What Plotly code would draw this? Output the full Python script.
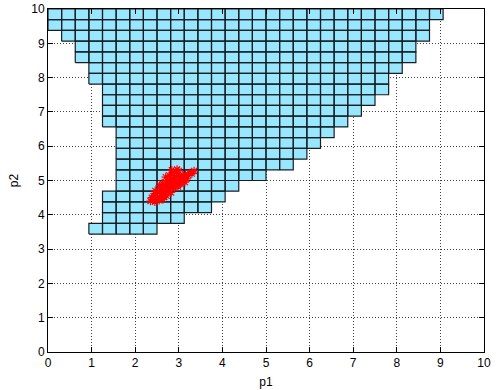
import plotly.graph_objects as go

# Grid cell size (the parameter plane is split into 32 x 32 cells)
CELL = 0.3125

# Feasible region: for each cell row (counted from p2 = 0), the first and
# one-past-last cell column that is inside the region
row_index = list(range(11, 32))
left_col = [3, 4, 4, 4, 5, 5, 5, 5, 5, 5, 4, 4, 4, 4, 3, 3, 2, 2, 1, 0, 0]
right_col = [8, 10, 12, 13, 14, 16, 18, 19, 20, 21, 22, 23, 24, 25, 25, 26, 27, 27, 28, 28, 29]

# Sampled parameter estimates
p1_samples = [2.35, 2.40, 2.45, 2.50, 2.42, 2.55, 2.48, 2.60, 2.58, 2.52,
              2.65, 2.62, 2.70, 2.68, 2.72, 2.75, 2.78, 2.80, 2.66, 2.74,
              2.85, 2.82, 2.88, 2.90, 2.92, 2.95, 2.98, 3.00, 3.02, 2.86,
              2.76, 2.94, 3.05, 3.08, 3.10, 3.12, 3.15, 3.18, 3.22, 3.25,
              3.30, 3.35, 2.84, 2.96, 2.70, 2.56, 2.62, 2.78, 3.00, 2.90,
              2.82, 2.72, 2.64, 2.46, 2.38, 3.04, 3.14, 2.98, 2.88, 2.80]
p2_samples = [4.40, 4.45, 4.38, 4.50, 4.55, 4.42, 4.62, 4.55, 4.70, 4.48,
              4.60, 4.78, 4.65, 4.85, 4.75, 4.90, 4.70, 4.95, 4.52, 5.00,
              4.82, 5.05, 4.92, 5.10, 4.88, 5.00, 5.15, 4.95, 5.08, 5.20,
              4.80, 5.25, 5.02, 5.12, 4.98, 5.10, 5.18, 5.05, 5.15, 5.22,
              5.20, 5.28, 5.30, 5.32, 5.10, 4.85, 4.92, 5.15, 5.28, 4.78,
              4.65, 4.55, 4.45, 4.70, 4.50, 4.90, 4.95, 4.82, 5.00, 4.85]

ticks = list(range(0, 11))

# Build one closed rectangle per cell, separated by None
xs, ys = [], []
for k, c0, c1 in zip(row_index, left_col, right_col):
    y0, y1 = k * CELL, (k + 1) * CELL
    for c in range(c0, c1):
        x0, x1 = c * CELL, (c + 1) * CELL
        xs += [x0, x1, x1, x0, x0, None]
        ys += [y0, y0, y1, y1, y0, None]

FONT = "Liberation Sans, Arial, sans-serif"

fig = go.Figure()
fig.add_trace(go.Scatter(
    x=xs, y=ys, mode="lines", fill="toself",
    fillcolor="rgb(153,230,255)",
    line=dict(color="rgb(20,30,35)", width=1.2),
    hoverinfo="skip", showlegend=False,
))
fig.add_trace(go.Scatter(
    x=p1_samples, y=p2_samples, mode="markers",
    marker=dict(symbol="asterisk-open", size=7, color="red",
                line=dict(color="red", width=1.2)),
    showlegend=False,
))

axis_common = dict(
    range=[0, 10], tickvals=ticks, ticktext=[str(t) for t in ticks],
    showline=True, linecolor="black", linewidth=1, mirror="ticks",
    ticks="inside", ticklen=5, tickcolor="black",
    showgrid=True, gridcolor="rgba(0,0,0,0.75)", griddash="1px,2px", gridwidth=1,
    zeroline=False, automargin=False,
    tickfont=dict(family=FONT, size=12, color="black"),
)

fig.update_layout(
    width=500, height=390,
    margin=dict(l=48, r=16, t=9, b=38),
    paper_bgcolor="white", plot_bgcolor="white",
    xaxis=dict(**axis_common,
               title=dict(text="p1", standoff=8,
                          font=dict(family=FONT, size=12, color="black"))),
    yaxis=dict(**axis_common,
               title=dict(text="p2", standoff=10,
                          font=dict(family=FONT, size=12, color="black"))),
)

fig.write_html("out.html")
